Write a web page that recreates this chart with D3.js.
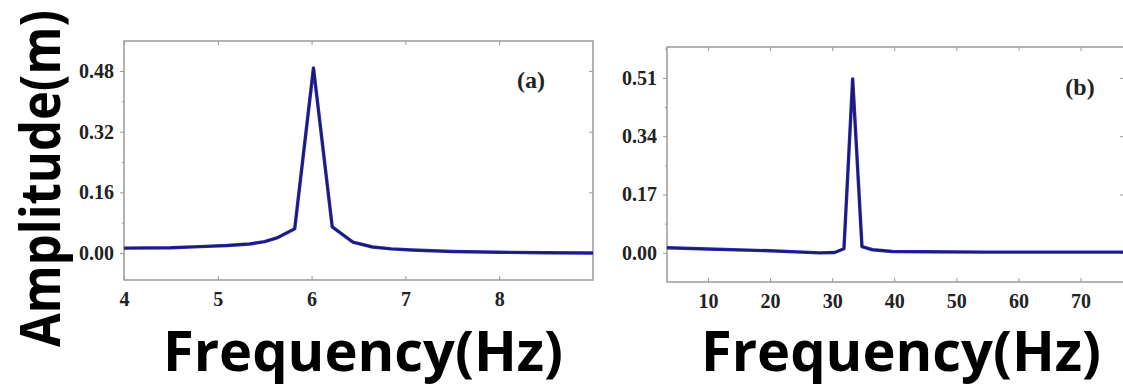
<!DOCTYPE html>
<html>
<head>
<meta charset="utf-8">
<script src="https://cdn.jsdelivr.net/npm/d3@7"></script>
<style>
  body { margin: 0; background: #fff; }
  .tick-lbl { font-family: "Liberation Serif", serif; font-weight: bold; font-size: 20px; fill: #222; }
  .big { font-family: "Open Sans", sans-serif; font-weight: bold; font-size: 56px; fill: #000; }
</style>
</head>
<body>
<svg id="chart" width="1123" height="388"></svg>
<script>
// panel (a): frequency (Hz) and amplitude (m)
var freqA = [4.0, 4.5, 4.81, 5.1, 5.34, 5.5, 5.63, 5.82, 6.02, 6.22, 6.44, 6.65, 6.85, 7.07, 7.5, 8.0, 8.5, 9.0];
var ampA  = [0.013, 0.014, 0.017, 0.020, 0.024, 0.030, 0.040, 0.064, 0.488, 0.069, 0.029, 0.016, 0.011, 0.008, 0.004, 0.002, 0.001, 0.000];
var yTicksA = [0.00, 0.16, 0.32, 0.48];
var xTicksA = [4, 5, 6, 7, 8];

// panel (b)
var freqB = [3.4, 10, 20, 28, 30.4, 31.9, 33.3, 34.8, 36.5, 39.7, 45, 55, 65, 77];
var ampB  = [0.015, 0.011, 0.006, 0.000, 0.001, 0.012, 0.507, 0.018, 0.009, 0.004, 0.003, 0.002, 0.002, 0.002];
var yTicksB = [0.00, 0.17, 0.34, 0.51];
var xTicksB = [10, 20, 30, 40, 50, 60, 70];

var svg = d3.select('#chart');

function drawPanel(cfg) {
    var x = d3.scaleLinear().domain(cfg.xDomain).range([cfg.left, cfg.right]);
    var y = d3.scaleLinear().domain(cfg.yDomain).range([cfg.bottom, cfg.top]);
    var g = svg.append('g');

    // minor ticks halfway between major ones
    var yStep = cfg.yTicks[1] - cfg.yTicks[0];
    var yMinor = [];
    for (var i = 0; i < cfg.yTicks.length; i++) {
        var v = cfg.yTicks[i] + yStep / 2;
        if (v < cfg.yDomain[1]) yMinor.push(v);
        var w = cfg.yTicks[i] - yStep / 2;
        if (w > cfg.yDomain[0] && i == 0) yMinor.push(w);
    }

    var axisStyle = function(sel) {
        sel.select('.domain').remove();
        sel.attr('font-size', null).attr('font-family', null);
        sel.selectAll('.tick line').attr('stroke', '#999').attr('stroke-width', 1);
        sel.selectAll('.tick text').attr('class', 'tick-lbl').attr('fill', null);
    };

    // left axis with labels
    g.append('g')
        .attr('transform', `translate(${cfg.left},0)`)
        .call(d3.axisLeft(y).tickValues(cfg.yTicks).tickSize(4).tickPadding(6).tickFormat(d3.format('.2f')))
        .call(axisStyle);
    g.append('g')
        .attr('transform', `translate(${cfg.left},0)`)
        .call(d3.axisLeft(y).tickValues(yMinor).tickSize(2).tickFormat(''))
        .call(axisStyle);

    // right axis, ticks inward
    g.append('g')
        .attr('transform', `translate(${cfg.right},0)`)
        .call(d3.axisLeft(y).tickValues(cfg.yTicks).tickSize(4).tickFormat(''))
        .call(axisStyle);

    // bottom axis, ticks inward
    g.append('g')
        .attr('transform', `translate(0,${cfg.bottom})`)
        .call(d3.axisTop(x).tickValues(cfg.xTicks).tickSize(4).tickFormat(''))
        .call(axisStyle);
    g.append('g')
        .attr('transform', `translate(0,${cfg.bottom})`)
        .call(d3.axisBottom(x).tickValues(cfg.xTicks).tickSize(0).tickPadding(cfg.xPad).tickFormat(d3.format('d')))
        .call(axisStyle);

    // top axis, ticks inward
    g.append('g')
        .attr('transform', `translate(0,${cfg.top})`)
        .call(d3.axisBottom(x).tickValues(cfg.xTicks).tickSize(4).tickFormat(''))
        .call(axisStyle);

    // frame
    g.append('rect')
        .attr('x', cfg.left).attr('y', cfg.top)
        .attr('width', cfg.right - cfg.left).attr('height', cfg.bottom - cfg.top)
        .attr('fill', 'none').attr('stroke', '#9a9a9a').attr('stroke-width', 1.5);

    var line = d3.line().x(d => x(d[0])).y(d => y(d[1]));
    var pts = d3.zip(cfg.freq, cfg.amp);
    g.append('path').datum(pts)
        .attr('d', line)
        .attr('fill', 'none')
        .attr('stroke', '#2828b0')
        .attr('stroke-width', 3.4)
        .attr('stroke-linejoin', 'round');
    g.append('path').datum(pts)
        .attr('d', line)
        .attr('fill', 'none')
        .attr('stroke', '#181860')
        .attr('stroke-width', 1.3)
        .attr('stroke-linejoin', 'round');

    g.append('text')
        .attr('x', cfg.tagX).attr('y', cfg.tagY)
        .attr('text-anchor', 'middle')
        .style('font-family', '"Liberation Serif", serif')
        .style('font-weight', 'bold')
        .style('font-size', '24px')
        .attr('fill', '#222')
        .text(cfg.tag);

    g.append('text')
        .attr('class', 'big')
        .attr('x', cfg.titleX).attr('y', 371)
        .attr('text-anchor', 'middle')
        .text('Frequency(Hz)');
}

drawPanel({
    left: 124, right: 593, top: 41, bottom: 280,
    xDomain: [4, 9], yDomain: [-0.071, 0.559],
    xTicks: xTicksA, yTicks: yTicksA,
    freq: freqA, amp: ampA,
    xPad: 12, tag: '(a)', tagX: 531, tagY: 88, titleX: 363
});

drawPanel({
    left: 667, right: 1124, top: 47, bottom: 282,
    xDomain: [3.4, 77], yDomain: [-0.085, 0.6],
    xTicks: xTicksB, yTicks: yTicksB,
    freq: freqB, amp: ampB,
    xPad: 12, tag: '(b)', tagX: 1080, tagY: 95, titleX: 901
});

svg.append('text')
    .attr('class', 'big')
    .attr('transform', 'translate(60,347) rotate(-90)')
    .attr('textLength', 337)
    .attr('lengthAdjust', 'spacingAndGlyphs')
    .text('Amplitude(m)');
</script>
</body>
</html>
